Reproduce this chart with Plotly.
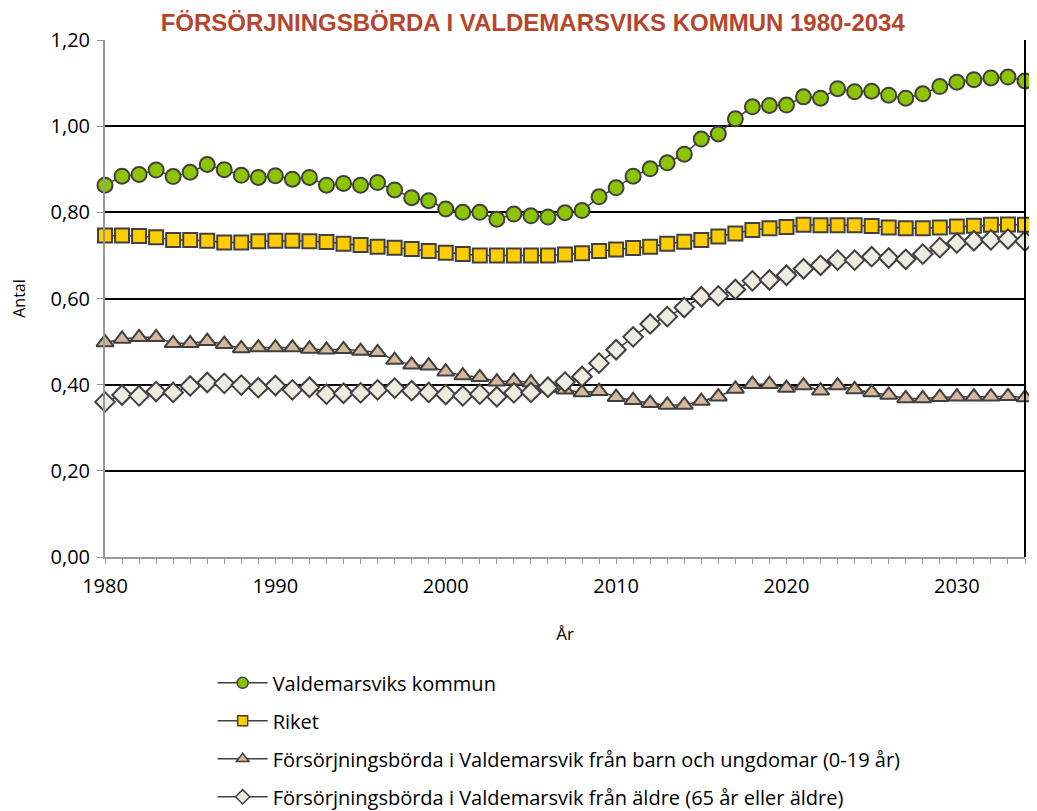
import plotly.graph_objects as go


# År 1980-2034
years = list(range(1980, 2035))

# Valdemarsviks kommun - total försörjningsbörda
valdemarsvik = [
	0.863, 0.884, 0.888, 0.898, 0.883, 0.893, 0.911, 0.899, 0.886, 0.881,
	0.885, 0.877, 0.881, 0.863, 0.867, 0.863, 0.869, 0.852, 0.834, 0.827,
	0.808, 0.800, 0.800, 0.784, 0.796, 0.792, 0.789, 0.799, 0.804, 0.836,
	0.857, 0.884, 0.901, 0.915, 0.935, 0.970, 0.982, 1.017, 1.045, 1.048,
	1.049, 1.068, 1.065, 1.087, 1.080, 1.081, 1.072, 1.065, 1.075, 1.092,
	1.102, 1.108, 1.112, 1.114, 1.105,
]

# Riket
riket = [
	0.746, 0.746, 0.745, 0.742, 0.736, 0.736, 0.734, 0.730, 0.730, 0.733,
	0.734, 0.734, 0.733, 0.731, 0.727, 0.724, 0.720, 0.718, 0.715, 0.710,
	0.706, 0.703, 0.700, 0.700, 0.700, 0.700, 0.700, 0.702, 0.705, 0.710,
	0.714, 0.717, 0.720, 0.727, 0.732, 0.736, 0.744, 0.751, 0.759, 0.763,
	0.766, 0.771, 0.770, 0.770, 0.770, 0.768, 0.765, 0.763, 0.763, 0.765,
	0.767, 0.769, 0.771, 0.772, 0.771,
]

# Försörjningsbörda från barn och ungdomar (0-19 år)
barn = [
	0.498, 0.506, 0.510, 0.510, 0.496, 0.496, 0.501, 0.494, 0.484, 0.486,
	0.486, 0.486, 0.483, 0.481, 0.482, 0.478, 0.475, 0.457, 0.446, 0.444,
	0.430, 0.421, 0.417, 0.407, 0.409, 0.405, 0.392, 0.388, 0.382, 0.385,
	0.371, 0.364, 0.357, 0.353, 0.353, 0.362, 0.372, 0.390, 0.401, 0.401,
	0.392, 0.398, 0.386, 0.398, 0.389, 0.382, 0.376, 0.368, 0.368, 0.371,
	0.372, 0.372, 0.372, 0.373, 0.370,
]

# Försörjningsbörda från äldre (65 år eller äldre)
aldre = [
	0.360, 0.376, 0.374, 0.384, 0.382, 0.397, 0.405, 0.403, 0.399, 0.393,
	0.398, 0.388, 0.394, 0.378, 0.380, 0.381, 0.388, 0.392, 0.386, 0.382,
	0.377, 0.374, 0.378, 0.372, 0.381, 0.382, 0.394, 0.406, 0.419, 0.450,
	0.481, 0.511, 0.541, 0.558, 0.579, 0.604, 0.606, 0.621, 0.641, 0.643,
	0.654, 0.669, 0.677, 0.689, 0.689, 0.697, 0.694, 0.691, 0.703, 0.718,
	0.729, 0.734, 0.736, 0.738, 0.733,
]

y_ticks = [0.0, 0.2, 0.4, 0.6, 0.8, 1.0, 1.2]
y_tick_labels = ['0,00', '0,20', '0,40', '0,60', '0,80', '1,00', '1,20']

series = [
	# name, values, symbol, size, fill colour
	('Valdemarsviks kommun', valdemarsvik, 'circle', 15, '#8DC400'),
	('Riket', riket, 'square', 14, '#FFCC00'),
	('Försörjningsbörda i Valdemarsvik från barn och ungdomar (0-19 år)', barn, 'triangle-up', 15, '#D6B89A'),
	('Försörjningsbörda i Valdemarsvik från äldre (65 år eller äldre)', aldre, 'diamond', 15, '#EEECE1'),
]

FONT = 'Open Sans'

fig = go.Figure()

for i, (name, values, symbol, size, colour) in enumerate(series):
	fig.add_trace(go.Scatter(
									x		= years,
									y		= values,
									name	= name,
									mode	= 'lines+markers',
									line	= dict(color='#404040', width=1.5),
									marker	= dict(symbol=symbol, size=size, color=colour,
												   line=dict(color='#404040', width=2)),
									showlegend	= False,
									cliponaxis	= False,
								))

# legend entries with the smaller markers used in the legend box
for i, (name, values, symbol, size, colour) in enumerate(series):
	fig.add_trace(go.Scatter(
									x		= [None],
									y		= [None],
									name	= name,
									mode	= 'lines+markers',
									line	= dict(color='#404040', width=1.5),
									marker	= dict(symbol=symbol, size=size - 4, color=colour,
												   line=dict(color='#404040', width=1.5)),
									legendgroup = 'g%d' % i,
								))

# Format the X Axis
fig.update_xaxes(
				range=[1980, 2034],
				tick0=1980, dtick=10,
				ticks='outside', ticklen=5, tickcolor='#999999',
				minor=dict(dtick=1, ticks='outside', ticklen=5, tickcolor='#999999'),
				showgrid=False, zeroline=False,
				showline=True, linecolor='#999999', linewidth=2,
				ticklabelstandoff=5,
				title=dict(text='År', font=dict(family=FONT, size=17, color='black'), standoff=30),
				tickfont=dict(family=FONT, size=20, color='black'),
				)

# Format the Y Axis
fig.update_yaxes(
				range=[0, 1.2],
				tickvals=y_ticks, ticktext=y_tick_labels,
				ticks='outside', ticklen=6, tickcolor='#999999',
				showgrid=True, gridcolor='black', gridwidth=2,
				zeroline=False,
				showline=True, linecolor='#999999', linewidth=2,
				ticklabelstandoff=3,
				title=dict(text='Antal', font=dict(family=FONT, size=16, color='black'), standoff=38),
				tickfont=dict(family=FONT, size=20, color='black'),
				)

# right border of the plot area
fig.add_shape(type='line', xref='paper', yref='paper', x0=1, x1=1, y0=0, y1=1,
			  line=dict(color='black', width=2))

# page shows the figure with an 8px offset, margins allow for that
fig.update_layout(
				width=1037, height=811,
				margin=dict(l=97, r=20, t=32, b=262, autoexpand=False),
				paper_bgcolor='white', plot_bgcolor='white',
				title=dict(
					text='<b>FÖRSÖRJNINGSBÖRDA I VALDEMARSVIKS KOMMUN 1980-2034</b>',
					font=dict(family='Liberation Sans', size=24, color='#B5452C'),
					x=0.506, xanchor='center', y=0.9815, yanchor='middle',
				),
				legend=dict(
					x=0.117, y=-0.2056, xanchor='left', yanchor='top',
					orientation='v',
					font=dict(family=FONT, size=20, color='black'),
					tracegroupgap=9,
					itemwidth=50,
					bgcolor='rgba(0,0,0,0)',
				),
				showlegend=True,
				)

fig.write_html('out.html')
